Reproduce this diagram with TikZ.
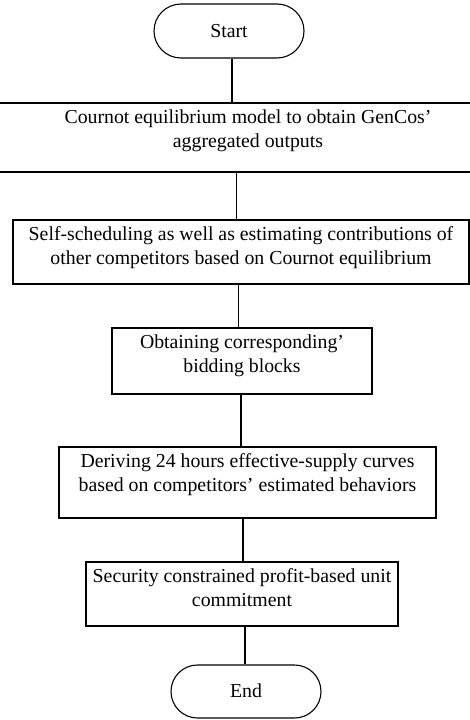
\documentclass[tikz,border=0pt]{standalone}
\usepackage{fontspec}
\setmainfont{Liberation Serif}
\usetikzlibrary{calc}
\begin{document}
\begin{tikzpicture}[x=1pt,y=-1pt,
  font=\fontsize{19.8}{24}\selectfont,
  box/.style={draw=black, line width=1.1pt, inner sep=0pt},
  term/.style={draw=black, line width=1.1pt, inner sep=0pt, minimum width=150pt},
  txt/.style={align=center, inner sep=0pt, anchor=base},
  conn/.style={draw=black, line width=1.1pt}]
\useasboundingbox (0,0) rectangle (470,720);
% terminals
\node[term, minimum height=54pt, rounded corners=27pt] (start) at (229,31) {};
\node[txt] at (229,37) {Start};
\node[term, minimum height=53pt, rounded corners=26.5pt] (end) at (246,691.5) {};
\node[txt] at (246,697) {End};
% boxes
\node[box, minimum width=500pt, minimum height=69pt] (b1) at (248,137.5) {};
\node[txt] at (248,147) {Cournot equilibrium model to obtain GenCos’\\aggregated outputs};
\node[box, minimum width=456pt, minimum height=64pt] (b2) at (241,252) {};
\node[txt] at (241,264) {Self-scheduling as well as estimating contributions of\\other competitors based on Cournot equilibrium};
\node[box, minimum width=260pt, minimum height=66pt] (b3) at (242,361) {};
\node[txt] at (242,372) {Obtaining corresponding’\\bidding blocks};
\node[box, minimum width=377pt, minimum height=71pt] (b4) at (247.5,482.5) {};
\node[txt] at (247.5,491) {Deriving 24 hours effective-supply curves\\based on competitors’ estimated behaviors};
\node[box, minimum width=312pt, minimum height=64pt] (b5) at (242,594) {};
\node[txt] at (242,606) {Security constrained profit-based unit\\commitment};
% connector x positions
\coordinate (x1) at (232,0);
\coordinate (x2) at (236.5,0);
\coordinate (x3) at (238.5,0);
\coordinate (x4) at (241,0);
\coordinate (x5) at (243,0);
\coordinate (x6) at (245,0);
\draw[conn] (x1 |- start.south) -- (x1 |- b1.north);
\draw[conn] (x2 |- b1.south) -- (x2 |- b2.north);
\draw[conn] (x3 |- b2.south) -- (x3 |- b3.north);
\draw[conn] (x4 |- b3.south) -- (x4 |- b4.north);
\draw[conn] (x5 |- b4.south) -- (x5 |- b5.north);
\draw[conn] (x6 |- b5.south) -- (x6 |- end.north);
\end{tikzpicture}
\end{document}
